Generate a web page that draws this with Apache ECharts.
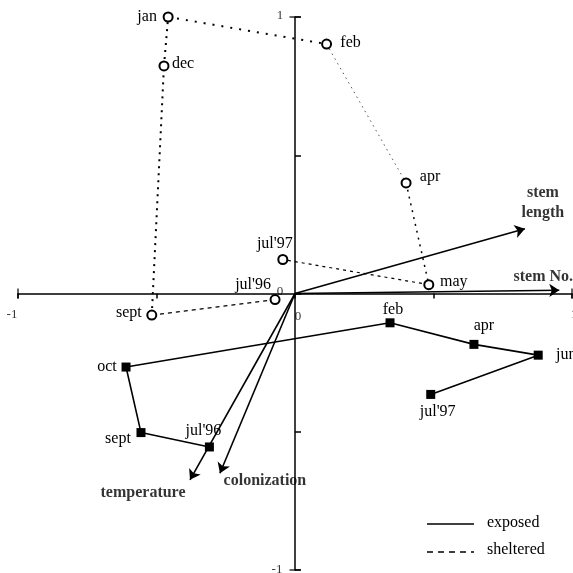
<!DOCTYPE html>
<html><head><meta charset="utf-8">
<script src="https://cdn.jsdelivr.net/npm/echarts@6/dist/echarts.min.js"></script>
<style>html,body{margin:0;padding:0;background:#fff}#chart{width:573px;height:573px}</style>
</head><body><div id="chart"></div>
<script>
// Biplot of monthly samples (sheltered vs exposed) with variable vectors
const shelteredMonths = ["jul'96", "sept", "dec", "jan", "feb", "apr", "may", "jul'97"];
const shelteredX = [-0.072, -0.517, -0.473, -0.458, 0.114, 0.401, 0.483, -0.044];
const shelteredY = [-0.022, -0.078, 0.823, 1.0, 0.902, 0.400, 0.032, 0.123];

const exposedMonths = ["jul'96", "sept", "oct", "feb", "apr", "jun", "jul'97"];
const exposedX = [-0.309, -0.556, -0.610, 0.343, 0.646, 0.878, 0.490];
const exposedY = [-0.555, -0.503, -0.266, -0.106, -0.184, -0.223, -0.365];

const vectorNames = ["stem\nlength", "stem No.", "temperature", "colonization"];
const vectorX = [0.830, 0.954, -0.379, -0.271];
const vectorY = [0.234, 0.012, -0.674, -0.650];

// labelled ticks on each axis
const axisTickValues = [-1, 0, 1];
const axisTickLabels = ['-1', '0', '1'];
const legendNames = ['exposed', 'sheltered'];

// label placement (pixel offsets from each mark)
const shelteredLabelOffset = [[-22,-15],[-23,-2],[19,-2],[-21,0],[24,-1],[24,-6],[25,-3],[-8,-16]];
const exposedLabelOffset = [[-6,-16],[-23,6],[-19,0],[3,-13],[10,-19],[28,0],[7,17]];
const vectorLabelOffset = [[18,-26],[-16,-13],[-47,13],[45,8]];
const xTickLabelOffset = [[-6,21],[3,23],[2,21]];
const yTickLabelOffset = [[-18,0],[-15,-2],[-15,-1]];

// dash pattern for each sheltered segment
const shelteredSegStyle = [
  {type:[4,4], width:1.2, color:'#000'},
  {type:[2,5], width:2, color:'#000'},
  {type:[2,5], width:2, color:'#000'},
  {type:[2,7], width:2, color:'#000'},
  {type:[1.5,4], width:1, color:'#555'},
  {type:[2,5], width:1.5, color:'#000'},
  {type:[3,4], width:1.2, color:'#000'}
];

const FONT = 'Liberation Serif';
const chart = echarts.init(document.getElementById('chart'));

const series = [];
// sheltered trajectory: dotted/dashed segments
for (let i = 0; i < shelteredX.length - 1; i++) {
  series.push({
    type: 'line', showSymbol: false, silent: true, z: 2,
    data: [[shelteredX[i], shelteredY[i]], [shelteredX[i+1], shelteredY[i+1]]],
    lineStyle: shelteredSegStyle[i]
  });
}
// sheltered points
series.push({
  type: 'scatter', z: 5,
  symbol: 'circle', symbolSize: 9,
  itemStyle: {color: '#fff', borderColor: '#000', borderWidth: 2, opacity: 1},
  data: shelteredX.map((x, i) => ({
    value: [x, shelteredY[i]],
    label: {show: true, position: 'inside', offset: shelteredLabelOffset[i], formatter: shelteredMonths[i],
      fontFamily: FONT, fontSize: 16, color: '#000'}
  }))
});
// exposed trajectory
series.push({
  type: 'line', z: 4,
  symbol: 'rect', symbolSize: 9,
  itemStyle: {color: '#000'},
  lineStyle: {color: '#000', width: 1.6},
  data: exposedX.map((x, i) => ({
    value: [x, exposedY[i]],
    label: {show: true, position: 'inside', offset: exposedLabelOffset[i], formatter: exposedMonths[i],
      fontFamily: FONT, fontSize: 16, color: '#000'}
  }))
});
// variable vectors
series.push({
  type: 'lines', coordinateSystem: 'cartesian2d', z: 3,
  symbol: ['none', 'arrow'], symbolSize: 10,
  lineStyle: {color: '#000', width: 1.6, opacity: 1},
  data: vectorX.map((x, i) => ({coords: [[0, 0], [x, vectorY[i]]]}))
});
series.push({
  type: 'scatter', symbolSize: 1, z: 6,
  itemStyle: {color: 'rgba(0,0,0,0)'},
  data: vectorX.map((x, i) => ({
    value: [x, vectorY[i]],
    label: {show: true, position: 'inside', offset: vectorLabelOffset[i], formatter: vectorNames[i],
      fontFamily: FONT, fontSize: 16, fontWeight: 'bold', color: '#000', lineHeight: 20, align: 'center'}
  }))
});
// tick labels placed on the crossing axes
const tickLabelStyle = {fontFamily: FONT, fontSize: 13, color: '#000'};
series.push({
  type: 'scatter', symbolSize: 1, z: 6, silent: true,
  itemStyle: {color: 'rgba(0,0,0,0)'},
  data: axisTickValues.map((v, i) => ({
    value: [v, 0],
    label: Object.assign({show: true, position: 'inside', offset: xTickLabelOffset[i], formatter: axisTickLabels[i]}, tickLabelStyle)
  })).concat(axisTickValues.map((v, i) => ({
    value: [0, v],
    label: Object.assign({show: true, position: 'inside', offset: yTickLabelOffset[i], formatter: axisTickLabels[i]}, tickLabelStyle)
  })))
});
// cross ticks at the axis ends
series.push({
  type: 'scatter', silent: true, z: 3,
  symbol: 'rect', itemStyle: {color: '#000'},
  data: [
    {value: [-1, 0], symbolSize: [1.5, 10]},
    {value: [1, 0], symbolSize: [1.5, 10]},
    {value: [0, 1], symbolSize: [11, 1.5]},
    {value: [0, -1], symbolSize: [11, 1.5]}
  ]
});

const axisCommon = {
  type: 'value', min: -1, max: 1, interval: 0.5,
  axisLine: {onZero: true, lineStyle: {color: '#000', width: 1.5}},
  splitLine: {show: false},
  axisLabel: {show: false}
};

chart.setOption({
  animation: false,
  backgroundColor: '#fff',
  grid: {left: 18, right: 1, top: 17, bottom: 3, containLabel: false, outerBoundsMode: 'none'},
  xAxis: Object.assign({}, axisCommon, {
    axisTick: {length: 5, lineStyle: {color: '#000', width: 1.5}}
  }),
  yAxis: Object.assign({}, axisCommon, {
    axisTick: {inside: true, length: 6, lineStyle: {color: '#000', width: 1.5}}
  }),
  graphic: [
    {type: 'line', shape: {x1: 427, y1: 524, x2: 474, y2: 524}, style: {stroke: '#000', lineWidth: 1.3}},
    {type: 'text', x: 487, y: 523, style: {text: legendNames[0], font: '16px ' + FONT, fill: '#000', verticalAlign: 'middle'}},
    {type: 'line', shape: {x1: 427, y1: 552, x2: 474, y2: 552}, style: {stroke: '#000', lineWidth: 1.3, lineDash: [6, 5]}},
    {type: 'text', x: 487, y: 550, style: {text: legendNames[1], font: '16px ' + FONT, fill: '#000', verticalAlign: 'middle'}}
  ],
  series: series
});
</script></body></html>
